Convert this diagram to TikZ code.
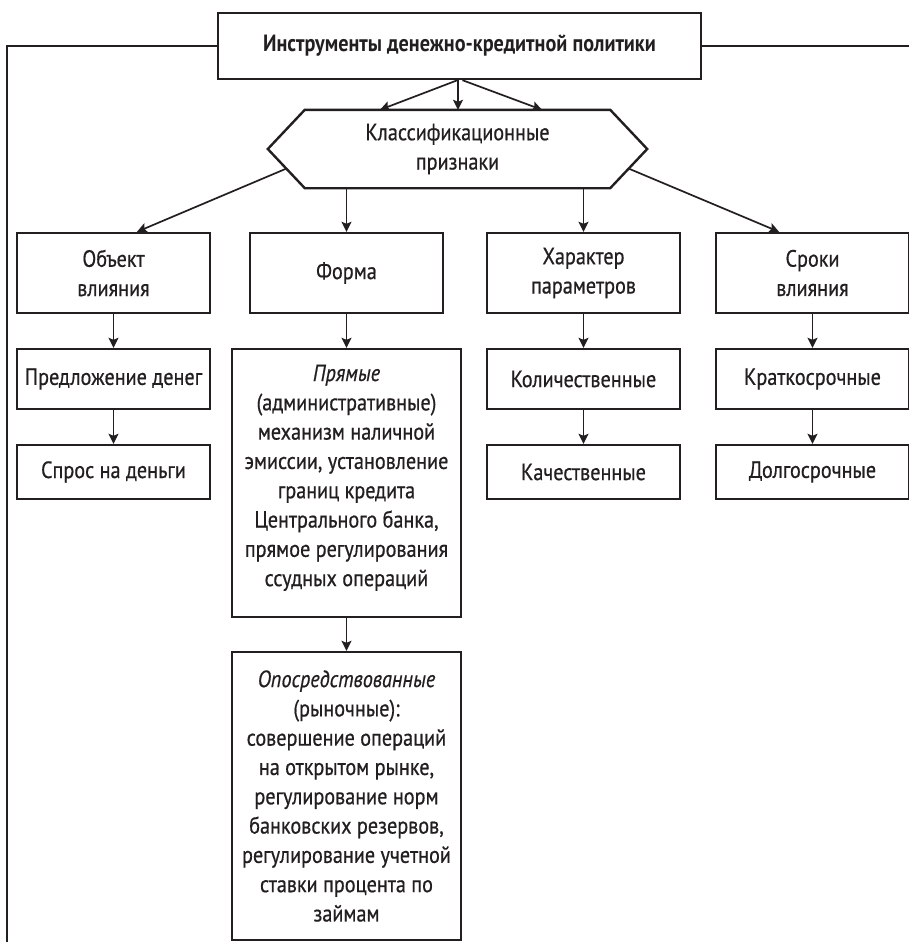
\documentclass[tikz,border=0pt]{standalone}
\usepackage{fontspec}
\setmainfont[FakeStretch=0.86,UprightFeatures={FakeBold=0.6},ItalicFeatures={FakeBold=0.6}]{PT Sans}
\usetikzlibrary{arrows.meta,calc}
\definecolor{ink}{HTML}{231F20}
\begin{document}
\begin{tikzpicture}[x=1pt,y=-1pt,
  txt/.style={font=\fontsize{23.5}{29.3}\selectfont,text=ink,align=center,inner sep=0pt},
  box/.style={txt,draw=ink,line width=2.4pt},
  arr/.style={draw=ink,line width=1.7pt,-{Stealth[length=10pt,width=10pt,inset=2pt]}},
  frame/.style={draw=ink,line width=1.8pt}]
\useasboundingbox (0,0) rectangle (908,942);

\node[box,minimum width=483,minimum height=66,font=\fontsize{23.5}{29}\selectfont\bfseries] (title) at (459.5,46) {Инструменты денежно-кредитной политики};

\node[txt,minimum width=379,minimum height=78] (hex) at (457.5,149) {Классификационные\\признаки};
\coordinate (hW) at (hex.west);
\coordinate (hE) at (hex.east);
\coordinate (hNW) at ($(hex.north west)+(37,0)$);
\coordinate (hNE) at ($(hex.north east)+(-37,0)$);
\coordinate (hSW) at ($(hex.south west)+(37,0)$);
\coordinate (hSE) at ($(hex.south east)+(-37,0)$);
\draw[draw=ink,line width=2.4pt,line join=miter] (hW) -- (hNW) -- (hNE) -- (hE) -- (hSE) -- (hSW) -- cycle;

% row 1
\node[box,minimum width=193,minimum height=80] (obj) at (113.5,273) {Объект\\влияния};
\node[box,minimum width=193,minimum height=80] (forma) at (346.5,273) {Форма};
\node[box,minimum width=193,minimum height=80] (har) at (583.5,273) {Характер\\параметров};
\node[box,minimum width=193,minimum height=80] (sroki) at (812.5,273) {Сроки\\влияния};

% row 2
\node[box,minimum width=193,minimum height=60] (pred) at (113.5,379) {Предложение денег};
\node[box,minimum width=229,minimum height=268] (pryam) at (346.5,483) {\itshape Прямые\\(административные)\\механизм наличной\\эмиссии, установление\\границ кредита\\Центрального банка,\\прямое регулирования\\ссудных операций\\[-14pt]\mbox{}};
\node[box,minimum width=193,minimum height=60] (kol) at (583.5,379) {Количественные};
\node[box,minimum width=193,minimum height=60] (krat) at (812.5,379) {Краткосрочные};

% row 3
\node[box,minimum width=193,minimum height=54] (spros) at (113.5,472) {Спрос на деньги};
\node[box,minimum width=193,minimum height=54] (kach) at (583.5,472) {Качественные};
\node[box,minimum width=193,minimum height=54] (dolg) at (812.5,472) {Долгосрочные};

\node[box,minimum width=229,minimum height=288] (opos) at (346.5,796) {\itshape Опосредствованные\\(рыночные):\\совершение операций\\на открытом рынке,\\регулирование норм\\банковских резервов,\\регулирование учетной\\ставки процента по\\займам};

% frame lines
\coordinate (lb) at (7,945);
\coordinate (rt) at (912,46);
\draw[frame] (title.west) -| (lb);
\draw[frame] (title.east) -- (rt);

% arrows title -> hex
\draw[arr] ($(title.south)+(-2,0)$) -- ($(hex.north)+(-77.5,0)$);
\draw[arr] ($(title.south)+(-1.5,0)$) -- ($(hex.north)+(0.5,0)$);
\draw[arr] ($(title.south)+(3,0)$) -- ($(hex.north)+(84.5,0)$);

% hex -> row 1
\draw[arr] ($(hW)!0.5!(hSW)$) -- ($(obj.north)+(23.5,0)$);
\draw[arr] (forma.north |- hSW) -- (forma.north);
\draw[arr] (har.north |- hSW) -- (har.north);
\draw[arr] ($(hE)!0.5!(hSE)$) -- ($(sroki.north)+(-33.5,0)$);

% columns
\draw[arr] (obj) -- (pred);
\draw[arr] (pred) -- (spros);
\draw[arr] (forma) -- (pryam);
\draw[arr] (pryam) -- (opos);
\draw[arr] (har) -- (kol);
\draw[arr] (kol) -- (kach);
\draw[arr] (sroki) -- (krat);
\draw[arr] (krat) -- (dolg);
\end{tikzpicture}
\end{document}
